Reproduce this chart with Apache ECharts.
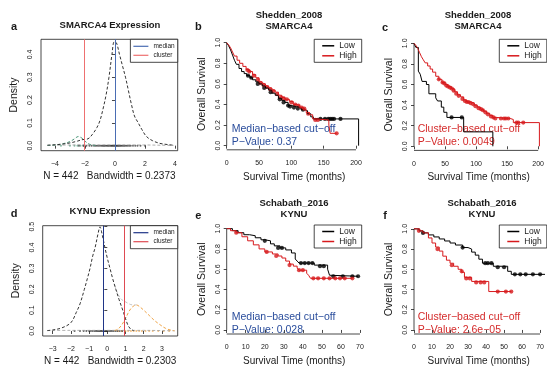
<!DOCTYPE html>
<html>
<head>
<meta charset="utf-8">
<script src="https://cdn.jsdelivr.net/npm/echarts@6.0.0/dist/echarts.min.js"></script>
<style>
  html, body { margin: 0; padding: 0; background: #fff; }
  #chart { width: 547px; height: 367px; }
</style>
</head>
<body>
<div id="chart"></div>
<script>
// ---- panel a: SMARCA4 density ----
const densAx = [-4.5, -4, -3.5, -3, -2.5, -2.2, -2, -1.8, -1.5, -1.2, -1, -0.8, -0.6, -0.4, -0.2, -0.05, 0.1, 0.3, 0.5, 0.7, 0.9, 1.1, 1.3, 1.55, 1.8, 2.1, 2.5, 3, 3.5, 3.9];
const densAy = [0.002, 0.004, 0.007, 0.012, 0.02, 0.026, 0.028, 0.03, 0.05, 0.08, 0.11, 0.16, 0.22, 0.3, 0.4, 0.455, 0.45, 0.4, 0.35, 0.3, 0.24, 0.18, 0.13, 0.1, 0.07, 0.04, 0.022, 0.01, 0.005, 0.002];
const greenAx = [-4.5, -4, -3.5, -3, -2.7, -2.45, -2.2, -2, -1.8, -1.6, -1.3];
const greenAy = [0.001, 0.003, 0.008, 0.018, 0.03, 0.04, 0.033, 0.02, 0.01, 0.004, 0.001];
const baseAx = [-4.5, -3, -2, -1, 0, 1, 2, 3, 3.9];
const baseAy = [0.002, 0.003, 0.004, 0.003, 0.003, 0.003, 0.003, 0.002, 0.001];
const rugA = [-2.4, -2.1, -1.9, -1.7, -1.55, -1.4, -1.3, -1.2, -1.1, -1.0, -0.9, -0.82, -0.75, -0.68, -0.6, -0.52, -0.45, -0.38, -0.3, -0.24, -0.18, -0.12, -0.06, 0, 0.05, 0.1, 0.16, 0.22, 0.28, 0.35, 0.42, 0.5, 0.58, 0.66, 0.75, 0.85, 0.95, 1.05, 1.2, 1.35, 1.5, 1.7, 2.0];
const rugAgreen = [-3.6, -3.0, -2.7, -2.5, -2.3, -2.1];
const medianA = 0.0;
const clusterA = -2.05;
const ticksAx = [-4, -2, 0, 2, 4];
const ticksAy = [0, 0.1, 0.2, 0.3, 0.4];

// ---- panel d: KYNU density ----
const densDx = [-3.3, -3, -2.5, -2, -1.7, -1.5, -1.26, -1.1, -0.95, -0.8, -0.67, -0.5, -0.4, -0.3, -0.13, 0, 0.15, 0.3, 0.47, 0.65, 0.85, 1.0, 1.15, 1.3, 1.45];
const densDy = [0.002, 0.005, 0.015, 0.04, 0.09, 0.13, 0.2, 0.25, 0.3, 0.36, 0.4, 0.47, 0.5, 0.47, 0.4, 0.35, 0.3, 0.25, 0.2, 0.15, 0.1, 0.06, 0.025, 0.008, 0.002];
const mixDx = [0.4, 0.6, 0.8, 1.0, 1.2, 1.4, 1.6];
const mixDy = [0.22, 0.175, 0.15, 0.14, 0.13, 0.125, 0.125];
const orangeDx = [0.4, 0.6, 0.8, 1.0, 1.2, 1.4, 1.6, 1.8, 2.0, 2.3, 2.6, 2.9, 3.2, 3.5, 3.7];
const orangeDy = [0.002, 0.01, 0.03, 0.06, 0.095, 0.117, 0.125, 0.115, 0.1, 0.075, 0.05, 0.03, 0.013, 0.004, 0.001];
const baseDx = [-3.3, -2, -1, 0, 1, 2, 3, 3.7];
const baseDy = [0.002, 0.003, 0.003, 0.003, 0.003, 0.003, 0.002, 0.001];
const rugD = [-1.8, -1.5, -1.3, -1.15, -1.0, -0.9, -0.8, -0.7, -0.62, -0.55, -0.48, -0.42, -0.36, -0.3, -0.24, -0.18, -0.12, -0.05, 0.02, 0.1, 0.18, 0.26, 0.35, 0.45, 0.55, 0.68, 0.82];
const rugDorange = [0.6, 0.8, 1.0, 1.15, 1.3, 1.45, 1.6, 1.75, 1.9, 2.1, 2.3, 2.5, 2.8, 3.1, 3.4];
const medianD = -0.22;
const clusterD = 0.93;
const ticksDx = [-3, -2, -1, 0, 1, 2, 3];
const ticksDy = [0, 0.1, 0.2, 0.3, 0.4, 0.5];

// ---- Kaplan-Meier curves: [time, survival] at each step ----
const bLow = [[0,1],[3,0.97],[6,0.93],[9,0.88],[12,0.83],[15,0.79],[19,0.75],[23,0.72],[27,0.7],[31,0.68],[36,0.66],[40,0.64],[45,0.62],[50,0.6],[55,0.58],[60,0.56],[65,0.54],[70,0.51],[75,0.49],[80,0.46],[85,0.44],[90,0.42],[95,0.39],[100,0.38],[108,0.37],[115,0.35],[120,0.34],[125,0.31],[130,0.28],[134,0.26],[204,0]];
const bLowCens = [[33,0.68],[38,0.66],[48,0.6],[58,0.56],[68,0.52],[82,0.45],[88,0.42],[95,0.39],[98,0.38],[104,0.37],[110,0.36],[118,0.35],[145,0.26],[152,0.26],[157,0.26],[160,0.26],[163,0.26],[166,0.26],[176,0.26]];
const bHigh = [[0,1],[3,0.98],[6,0.95],[9,0.91],[12,0.87],[16,0.83],[20,0.8],[25,0.77],[30,0.74],[35,0.72],[40,0.69],[45,0.66],[50,0.62],[55,0.6],[60,0.58],[65,0.56],[70,0.54],[75,0.52],[80,0.49],[85,0.47],[90,0.45],[97,0.43],[103,0.4],[108,0.39],[113,0.37],[118,0.35],[123,0.32],[128,0.3],[133,0.26],[137,0.25],[158,0.2],[160,0.12],[170,0.12]];
const bHighCens = [[32,0.735],[35,0.72],[42,0.68],[48,0.64],[52,0.61],[57,0.59],[62,0.57],[67,0.55],[72,0.53],[78,0.5],[84,0.47],[88,0.46],[93,0.45],[100,0.42],[106,0.4],[111,0.39],[116,0.37],[120,0.36],[126,0.31],[137,0.25],[141,0.25],[170,0.12]];

const cLow = [[0,1],[3,0.96],[7,0.73],[10,0.7],[13,0.63],[20,0.6],[24,0.51],[35,0.47],[38,0.44],[44,0.38],[48,0.33],[53,0.28],[80,0.14],[127,0]];
const cLowCens = [[60.5,0.28],[77,0.28]];
const cHigh = [[0,1],[3,0.98],[6,0.95],[9,0.91],[12,0.87],[15,0.84],[18,0.81],[22,0.78],[26,0.75],[30,0.72],[35,0.68],[40,0.65],[45,0.62],[50,0.6],[55,0.58],[60,0.56],[65,0.53],[70,0.5],[75,0.48],[80,0.45],[85,0.43],[92,0.42],[97,0.4],[102,0.38],[107,0.36],[112,0.34],[117,0.32],[122,0.3],[127,0.28],[133,0.27],[155,0.26],[160,0.23],[202,0]];
const cHighCens = [[40,0.65],[46,0.62],[49,0.61],[52,0.59],[55,0.58],[58,0.57],[61,0.56],[64,0.54],[68,0.51],[72,0.49],[78,0.46],[82,0.44],[85,0.43],[88,0.43],[91,0.42],[95,0.41],[99,0.39],[104,0.37],[108,0.36],[111,0.35],[115,0.33],[119,0.31],[124,0.29],[128,0.28],[131,0.27],[140,0.27],[145,0.27],[148,0.27],[152,0.27],[165,0.23],[168,0.23],[176,0.23]];

const eLow = [[0,1],[3,0.98],[6,0.96],[9,0.94],[12,0.93],[15,0.91],[18,0.89],[20,0.88],[23,0.85],[25,0.83],[28,0.81],[31,0.79],[34,0.76],[36,0.7],[37,0.68],[38,0.66],[46,0.64],[53,0.6],[54,0.54],[55,0.53],[69,0.53]];
const eLowCens = [[20,0.88],[27,0.81],[29,0.81],[39,0.66],[41,0.66],[43,0.66],[45,0.66],[49,0.63],[51,0.63],[56,0.53],[61,0.53],[66,0.53],[69,0.53]];
const eHigh = [[0,1],[2,0.98],[5,0.96],[8,0.92],[11,0.88],[14,0.84],[17,0.8],[20,0.77],[24,0.75],[27,0.73],[29,0.71],[31,0.68],[33,0.65],[35,0.63],[37,0.61],[38,0.59],[42,0.56],[43,0.54],[44,0.51],[66,0.51]];
const eHighCens = [[5,0.96],[21,0.77],[26,0.73],[33,0.64],[38,0.59],[40,0.59],[45.5,0.51],[48,0.51],[51,0.51],[54,0.51],[57,0.51],[59.5,0.51],[62,0.51],[66,0.51]];

const fLow = [[0,1],[3,0.98],[5,0.96],[8,0.94],[11,0.92],[14,0.9],[17,0.88],[20,0.86],[23,0.84],[27,0.815],[30,0.8],[32,0.77],[34,0.74],[36,0.7],[38,0.66],[44,0.63],[52,0.58],[54,0.55],[73,0.55]];
const fLowCens = [[5,0.96],[27,0.815],[39.5,0.66],[41,0.66],[43,0.66],[46.5,0.62],[50,0.62],[56,0.55],[59,0.55],[62,0.55],[66,0.55],[70,0.55]];
const fHigh = [[0,1],[3,0.98],[5,0.96],[8,0.91],[10,0.86],[12,0.82],[14,0.78],[16,0.73],[18,0.69],[20,0.66],[22,0.63],[24.5,0.6],[26.5,0.57],[28,0.52],[32,0.48],[41.5,0.38],[54,0.38]];
const fHighCens = [[2.7,0.98],[13,0.8],[21,0.64],[26.5,0.58],[29,0.51],[31,0.51],[34.5,0.47],[37,0.47],[39,0.47],[46.5,0.38],[51,0.38],[54,0.38]];

const ticksSurvY = [0, 0.2, 0.4, 0.6, 0.8, 1.0];
const ticksLongX = [0, 50, 100, 150, 200];
const ticksShortX = [0, 10, 20, 30, 40, 50, 60, 70];

const FONT = 'Liberation Sans, Arial, Helvetica, sans-serif';
const INK = '#1a1a1a';
const LOW = '#000000';
const HIGH = '#d7191c';
const BLUE_TXT = '#2a4d9c';
const RED_TXT = '#d42a2a';

const zip = (xs, ys) => xs.map((x, i) => [x, ys[i]]);
const minus = v => String(v).replace('-', '\u2212');

const chart = echarts.init(document.getElementById('chart'), null, { renderer: 'canvas' });

const grids = [
  { left: 41, top: 39.3, width: 136.7, height: 111.4, show: true, borderColor: INK, borderWidth: 0.8 },   // a
  { left: 226.7, top: 38.6, width: 135, height: 111.2 },                                                  // b
  { left: 414, top: 39.2, width: 135.3, height: 111.2 },                                                  // c
  { left: 42.7, top: 225.7, width: 135, height: 111.6, show: true, borderColor: INK, borderWidth: 0.8 },  // d
  { left: 226.7, top: 224.6, width: 135, height: 112 },                                                   // e
  { left: 414, top: 224.8, width: 135.3, height: 112 }                                                    // f
];

function xAxisCfg(gi, min, max, ticks, name, nameGap, margin) {
  return {
    gridIndex: gi, type: 'value', min: min, max: max,
    axisLine: { show: false },
    axisTick: { show: true, customValues: ticks, length: 3, lineStyle: { color: INK, width: 0.8 } },
    axisLabel: { customValues: ticks, margin: margin, fontSize: 7, color: INK, fontFamily: FONT, formatter: v => minus(v) },
    splitLine: { show: false },
    name: name, nameLocation: 'middle', nameGap: nameGap,
    nameTextStyle: { fontSize: 10, color: INK, fontFamily: FONT }
  };
}
function yAxisCfg(gi, min, max, ticks, name, nameGap, margin) {
  return {
    gridIndex: gi, type: 'value', min: min, max: max,
    axisLine: { show: false },
    axisTick: { show: true, customValues: ticks, length: 3, lineStyle: { color: INK, width: 0.8 } },
    axisLabel: { customValues: ticks, margin: margin, rotate: 90, fontSize: 7, color: INK, fontFamily: FONT, formatter: v => v.toFixed(1) },
    splitLine: { show: false },
    name: name, nameLocation: 'middle', nameGap: nameGap,
    nameTextStyle: { fontSize: 10.5, color: INK, fontFamily: FONT }
  };
}

const xAxes = [
  xAxisCfg(0, -4.93, 4.18, ticksAx, 'N = 442   Bandwidth = 0.2373', 21, 10),
  xAxisCfg(1, 0, 208.8, ticksLongX, 'Survival Time (months)', 22, 10),
  xAxisCfg(2, 0, 208.2, ticksLongX, 'Survival Time (months)', 22, 10),
  xAxisCfg(3, -3.55, 3.87, ticksDx, 'N = 442   Bandwidth = 0.2303', 20, 10),
  xAxisCfg(4, 0, 70.9, ticksShortX, 'Survival Time (months)', 22, 10),
  xAxisCfg(5, 0, 71.8, ticksShortX, 'Survival Time (months)', 22, 10)
];
const yAxes = [
  yAxisCfg(0, -0.022, 0.466, ticksAy, 'Density', 21, 7),
  yAxisCfg(1, -0.04, 1.04, ticksSurvY, 'Overall Survival', 19, 5),
  yAxisCfg(2, -0.04, 1.04, ticksSurvY, 'Overall Survival', 19, 5),
  yAxisCfg(3, -0.024, 0.505, ticksDy, 'Density', 21, 7),
  yAxisCfg(4, -0.04, 1.04, ticksSurvY, 'Overall Survival', 19, 5),
  yAxisCfg(5, -0.04, 1.04, ticksSurvY, 'Overall Survival', 19, 5)
];

const series = [];

function densLine(gi, data, color, width) {
  series.push({
    type: 'line', xAxisIndex: gi, yAxisIndex: gi, data: data, smooth: 0.35,
    showSymbol: false, silent: true,
    lineStyle: { color: color, width: width || 1, type: [3, 2] }
  });
}
function rug(gi, xs, color) {
  series.push({
    type: 'scatter', xAxisIndex: gi, yAxisIndex: gi, data: xs.map(x => [x, 0]),
    symbol: 'circle', symbolSize: 2, silent: true,
    itemStyle: { color: color, opacity: 0.7 }
  });
}
function vline(gi, name, x, color) {
  series.push({
    type: 'line', name: name, xAxisIndex: gi, yAxisIndex: gi, data: [],
    itemStyle: { color: color }, lineStyle: { color: color },
    markLine: {
      silent: true, symbol: 'none', label: { show: false },
      lineStyle: { color: color, width: 1, type: 'solid' },
      data: [{ xAxis: x }]
    }
  });
}
function kmCurve(gi, name, steps, cens, color) {
  series.push({
    type: 'line', name: name, xAxisIndex: gi, yAxisIndex: gi, data: steps,
    step: 'end', showSymbol: false, silent: true,
    itemStyle: { color: color }, lineStyle: { color: color, width: 1 }
  });
  series.push({
    type: 'scatter', xAxisIndex: gi, yAxisIndex: gi, data: cens,
    symbol: 'circle', symbolSize: 4.2, silent: true,
    itemStyle: { color: color }
  });
}
function survAxes(gi, xTicks) {
  // R draws the axis lines only between the first and last tick
  const yMin = yAxes[gi].min, xMin = xAxes[gi].min;
  const ls = { color: INK, width: 0.8 };
  series.push({
    type: 'line', xAxisIndex: gi, yAxisIndex: gi, silent: true, showSymbol: false, clip: false,
    data: [[xTicks[0], yMin], [xTicks[xTicks.length - 1], yMin]], lineStyle: ls
  });
  series.push({
    type: 'line', xAxisIndex: gi, yAxisIndex: gi, silent: true, showSymbol: false, clip: false,
    data: [[xMin, ticksSurvY[0]], [xMin, ticksSurvY[ticksSurvY.length - 1]]], lineStyle: ls
  });
}

// a
densLine(0, zip(baseAx, baseAy), '#9a9a9a', 0.8);
densLine(0, zip(greenAx, greenAy), '#4f9a7c');
densLine(0, zip(densAx, densAy), '#333333');
rug(0, rugAgreen, '#4f9a7c');
rug(0, rugA, '#222222');
vline(0, 'median@a', medianA, '#4a6db3');
vline(0, 'cluster@a', clusterA, '#ee7070');

// d
densLine(3, zip(baseDx, baseDy), '#a0a0a0', 0.8);
densLine(3, zip(orangeDx, orangeDy), '#f0a446');
densLine(3, zip(mixDx, mixDy), '#b5b5b5', 0.8);
densLine(3, zip(densDx, densDy), '#333333');
rug(3, rugDorange, '#f0a446');
rug(3, rugD, '#222222');
vline(3, 'median@d', medianD, '#1f3587');
vline(3, 'cluster@d', clusterD, '#de4a52');

// survival panels
survAxes(1, ticksLongX);
survAxes(2, ticksLongX);
survAxes(4, ticksShortX);
survAxes(5, ticksShortX);
kmCurve(1, 'Low', bLow, bLowCens, LOW);
kmCurve(1, 'High', bHigh, bHighCens, HIGH);
kmCurve(2, 'Low', cLow, cLowCens, LOW);
kmCurve(2, 'High', cHigh, cHighCens, HIGH);
kmCurve(4, 'Low', eLow, eLowCens, LOW);
kmCurve(4, 'High', eHigh, eHighCens, HIGH);
kmCurve(5, 'Low', fLow, fLowCens, LOW);
kmCurve(5, 'High', fHigh, fHighCens, HIGH);

function densLegend(top, names) {
  return {
    right: 547 - 177.7, top: top, orient: 'vertical', data: names,
    icon: 'rect', itemWidth: 15, itemHeight: 1.2, itemGap: 2,
    padding: [3.5, 3, 3.5, 3], borderColor: INK, borderWidth: 0.8, backgroundColor: '#fff',
    selectedMode: false, formatter: n => n.split('@')[0],
    textStyle: { fontSize: 6.5, color: INK, fontFamily: FONT }
  };
}
function survLegend(pos) {
  return Object.assign({
    orient: 'vertical', data: ['Low', 'High'],
    icon: 'rect', itemWidth: 12, itemHeight: 1.5, itemGap: 1,
    padding: [2, 5, 2, 8], borderColor: INK, borderWidth: 0.8, backgroundColor: '#fff',
    selectedMode: false,
    textStyle: { fontSize: 8.5, color: INK, fontFamily: FONT }
  }, pos);
}

function txt(x, y, s, size, opts) {
  return {
    type: 'text', x: x, y: y, silent: true,
    style: Object.assign({
      text: s, fontSize: size, fontFamily: FONT, fill: INK,
      align: 'center', verticalAlign: 'middle'
    }, opts || {})
  };
}
const bold = { fontWeight: 'bold' };
const graphics = [
  txt(14, 27.3, 'a', 11, bold),
  txt(198.3, 27.3, 'b', 11, bold),
  txt(385, 28.3, 'c', 11, bold),
  txt(14, 214.3, 'd', 11, bold),
  txt(198.3, 215.7, 'e', 11, bold),
  txt(385, 215.7, 'f', 11, bold),
  txt(110, 25, 'SMARCA4 Expression', 9.5, bold),
  txt(289, 15, 'Shedden_2008', 9.5, bold),
  txt(289, 26.5, 'SMARCA4', 9.5, bold),
  txt(478, 15, 'Shedden_2008', 9.5, bold),
  txt(478, 26.5, 'SMARCA4', 9.5, bold),
  txt(110, 211.7, 'KYNU Expression', 9.5, bold),
  txt(294, 203.3, 'Schabath_2016', 9.5, bold),
  txt(294, 214.6, 'KYNU', 9.5, bold),
  txt(482, 203.3, 'Schabath_2016', 9.5, bold),
  txt(482, 214.6, 'KYNU', 9.5, bold),
  txt(231.7, 129.3, 'Median\u2212based cut\u2212off', 10.5, { align: 'left', fill: BLUE_TXT }),
  txt(231.7, 141.7, 'P\u2212Value: 0.37', 10.5, { align: 'left', fill: BLUE_TXT }),
  txt(417.7, 129.3, 'Cluster\u2212based cut\u2212off', 10.5, { align: 'left', fill: RED_TXT }),
  txt(417.7, 141.7, 'P\u2212Value: 0.0049', 10.5, { align: 'left', fill: RED_TXT }),
  txt(231.7, 316.7, 'Median\u2212based cut\u2212off', 10.5, { align: 'left', fill: BLUE_TXT }),
  txt(231.7, 330, 'P\u2212Value: 0.028', 10.5, { align: 'left', fill: BLUE_TXT }),
  txt(417.7, 316.7, 'Cluster\u2212based cut\u2212off', 10.5, { align: 'left', fill: RED_TXT }),
  txt(417.7, 330, 'P\u2212Value: 2.6e\u221205', 10.5, { align: 'left', fill: RED_TXT })
];

chart.setOption({
  animation: false,
  backgroundColor: '#ffffff',
  textStyle: { fontFamily: FONT },
  grid: grids,
  xAxis: xAxes,
  yAxis: yAxes,
  legend: [
    densLegend(39.3, ['median@a', 'cluster@a']),
    densLegend(225.7, ['median@d', 'cluster@d']),
    survLegend({ right: 185.3, top: 39.3 }),
    survLegend({ left: 499.3, top: 39.3 }),
    survLegend({ right: 185.3, top: 225 }),
    survLegend({ left: 499.3, top: 225 })
  ],
  graphic: graphics,
  series: series
});
</script>
</body>
</html>
